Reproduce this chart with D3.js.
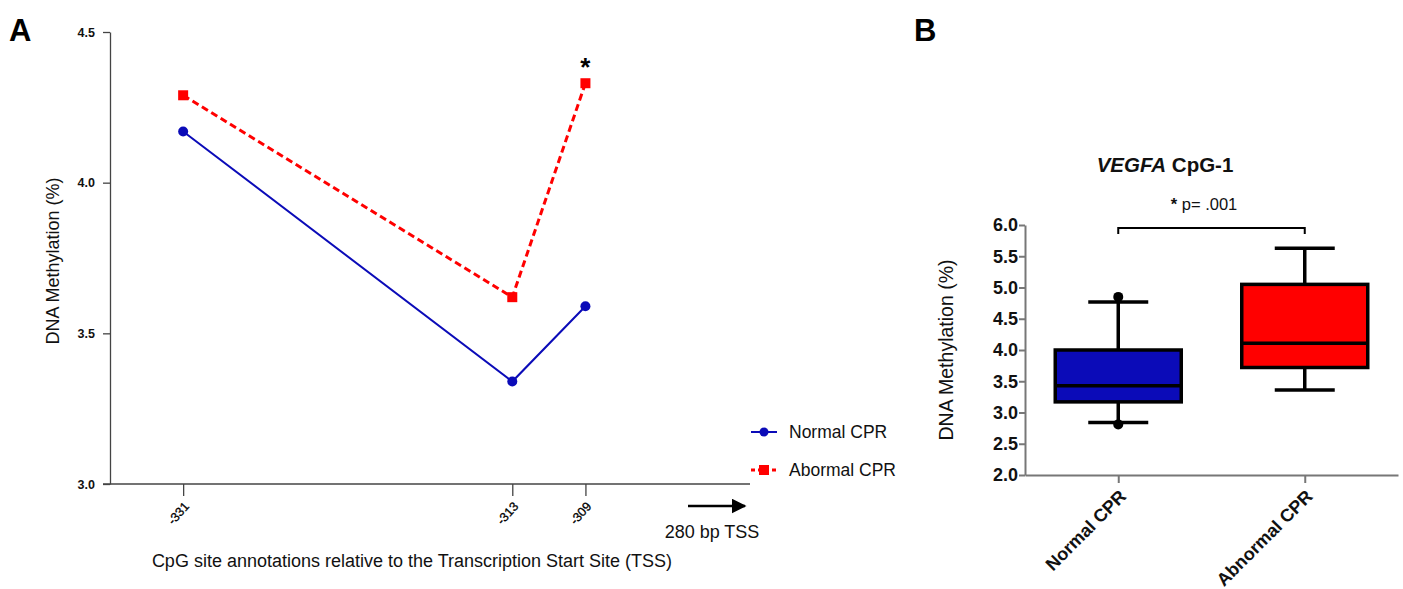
<!DOCTYPE html>
<html>
<head>
<meta charset="utf-8">
<script src="https://cdn.jsdelivr.net/npm/d3@7"></script>
<style>
body { margin: 0; background: #fff; }
svg { font-family: "Liberation Sans", Arial, sans-serif; }
.axisA path, .axisA line { stroke: #444; stroke-width: 1.3px; }
.axisB path, .axisB line { stroke: #777; stroke-width: 2px; }
</style>
</head>
<body>
<script>
// ---- panel A data
var sitiosCpG = [-331, -313, -309];
var normalCPR = [4.17, 3.34, 3.59];
var abnormalCPR = [4.29, 3.62, 4.33];
var ticksYA = [3.0, 3.5, 4.0, 4.5];
var serieNombres = ["Normal CPR", "Abormal CPR"];

// ---- panel B data
var grupos = ["Normal CPR", "Abnormal CPR"];
var cajaMin = [2.84, 3.36];
var cajaQ1 = [3.17, 3.72];
var cajaMediana = [3.43, 4.11];
var cajaQ3 = [4.00, 5.05];
var cajaMax = [4.77, 5.63];
var atipicos = [[4.85, 2.81], []];
var ticksYB = [2.0, 2.5, 3.0, 3.5, 4.0, 4.5, 5.0, 5.5, 6.0];

var azul = "#0b0bb8";
var rojo = "#ff0000";

var svg = d3.select("body").append("svg")
	.attr("width", 1403)
	.attr("height", 589);

/*
>>>>>>>>>>>>>>>>>>>>>>>>>>>>>>>>>>>>>>>>>>>>> Panel A
*/
svg.append("text").attr("x", 9).attr("y", 41)
	.attr("font-size", "31px").attr("font-weight", "bold").text("A");

var xA = d3.scaleLinear().domain([-335, -300]).range([110, 750]);
var yA = d3.scaleLinear().domain([3.0, 4.5]).range([484, 32]);

var ejeXA = svg.append("g").attr("class", "axisA")
	.attr("transform", "translate(0,484)")
	.call(d3.axisBottom(xA).tickValues(sitiosCpG).tickFormat(function (d) { return "-" + Math.abs(d); })
		.tickSizeOuter(0).tickSize(12));
ejeXA.select(".domain").attr("d", "M103,0H750");
ejeXA.selectAll("text")
	.attr("font-size", "12.5px")
	.attr("fill", "#000")
	.attr("stroke", "#000").attr("stroke-width", 0.3)
	.attr("text-anchor", "end")
	.attr("y", 0).attr("dy", "0.35em")
	.attr("transform", "translate(3,20) rotate(-48)");

var ejeYA = svg.append("g").attr("class", "axisA")
	.attr("transform", "translate(110,0)")
	.call(d3.axisLeft(yA).tickValues(ticksYA).tickFormat(d3.format(".1f")).tickSize(7).tickSizeOuter(0));
ejeYA.selectAll("text").attr("font-size", "12.5px").attr("font-weight", "bold").attr("fill", "#111").attr("x", -15);

svg.append("text")
	.attr("transform", "translate(59,261) rotate(-90)")
	.attr("text-anchor", "middle").attr("font-size", "18px").attr("fill", "#111")
	.text("DNA Methylation (%)");

svg.append("text").attr("x", 412).attr("y", 567)
	.attr("text-anchor", "middle").attr("font-size", "18px").attr("fill", "#111")
	.text("CpG site annotations relative to the Transcription Start Site (TSS)");

// flecha TSS
svg.append("defs").append("marker")
	.attr("id", "punta").attr("viewBox", "0 0 10 10")
	.attr("refX", 9).attr("refY", 5)
	.attr("markerWidth", 6).attr("markerHeight", 6)
	.attr("markerUnits", "strokeWidth")
	.attr("orient", "auto")
	.append("path").attr("d", "M0,0L10,5L0,10z").attr("fill", "#000");
svg.append("line").attr("x1", 688).attr("y1", 506).attr("x2", 745).attr("y2", 506)
	.attr("stroke", "#000").attr("stroke-width", 2.5).attr("marker-end", "url(#punta)");
svg.append("text").attr("x", 712).attr("y", 538)
	.attr("text-anchor", "middle").attr("font-size", "18px").attr("fill", "#111")
	.text("280 bp TSS");

var linea = d3.line()
	.x(function (d, i) { return xA(sitiosCpG[i]); })
	.y(function (d) { return yA(d); });

svg.append("path").datum(normalCPR)
	.attr("d", linea).attr("fill", "none")
	.attr("stroke", azul).attr("stroke-width", 2);
svg.append("path").datum(abnormalCPR)
	.attr("d", linea).attr("fill", "none")
	.attr("stroke", rojo).attr("stroke-width", 3).attr("stroke-dasharray", "7,4");

svg.selectAll("circle.normal").data(normalCPR).enter()
	.append("circle").attr("class", "normal")
	.attr("cx", function (d, i) { return xA(sitiosCpG[i]); })
	.attr("cy", function (d) { return yA(d); })
	.attr("r", 5).attr("fill", azul);

svg.selectAll("rect.abnormal").data(abnormalCPR).enter()
	.append("rect").attr("class", "abnormal")
	.attr("x", function (d, i) { return xA(sitiosCpG[i]) - 5; })
	.attr("y", function (d) { return yA(d) - 5; })
	.attr("width", 10).attr("height", 10).attr("fill", rojo);

svg.append("text")
	.attr("x", xA(sitiosCpG[2])).attr("y", yA(abnormalCPR[2]) - 7)
	.attr("text-anchor", "middle").attr("font-size", "26px").attr("font-weight", "bold")
	.text("*");

// leyenda
var leyenda = svg.selectAll("g.leyenda").data(serieNombres).enter()
	.append("g").attr("class", "leyenda")
	.attr("transform", function (d, i) { return "translate(751," + (432 + i * 38) + ")"; });
leyenda.append("line").attr("x1", 0).attr("x2", 26).attr("y1", 0).attr("y2", 0)
	.attr("stroke", function (d, i) { return i ? rojo : azul; })
	.attr("stroke-width", function (d, i) { return i ? 3 : 2; })
	.attr("stroke-dasharray", function (d, i) { return i ? "4,3" : null; });
leyenda.filter(function (d, i) { return i === 0; }).append("circle")
	.attr("cx", 13).attr("r", 4.5).attr("fill", azul);
leyenda.filter(function (d, i) { return i === 1; }).append("rect")
	.attr("x", 8).attr("y", -5).attr("width", 10).attr("height", 10).attr("fill", rojo);
leyenda.append("text").attr("x", 38).attr("y", 6)
	.attr("font-size", "17.5px").attr("fill", "#111")
	.text(function (d) { return d; });

/*
>>>>>>>>>>>>>>>>>>>>>>>>>>>>>>>>>>>>>>>>>>>>> Panel B
*/
svg.append("text").attr("x", 914).attr("y", 41)
	.attr("font-size", "31px").attr("font-weight", "bold").text("B");

var xB = d3.scalePoint().domain(grupos).range([1025, 1398]).padding(0.5);
var yB = d3.scaleLinear().domain([2.0, 6.0]).range([475, 225]);

var ejeXB = svg.append("g").attr("class", "axisB")
	.attr("transform", "translate(0,475)")
	.call(d3.axisBottom(xB).tickSize(8).tickSizeOuter(0));
ejeXB.selectAll("text")
	.attr("font-size", "18px").attr("font-weight", "bold").attr("fill", "#111")
	.attr("text-anchor", "end")
	.attr("transform", "translate(4,18) rotate(-45)")
	.attr("y", 0).attr("dy", "0.35em");

var ejeYB = svg.append("g").attr("class", "axisB")
	.attr("transform", "translate(1025,0)")
	.call(d3.axisLeft(yB).tickValues(ticksYB).tickFormat(d3.format(".1f")).tickSize(6).tickSizeOuter(0));
ejeYB.selectAll("text").attr("font-size", "18px").attr("font-weight", "bold").attr("fill", "#111").attr("x", -7);

svg.append("text")
	.attr("transform", "translate(953,350) rotate(-90)")
	.attr("text-anchor", "middle").attr("font-size", "19.5px").attr("fill", "#111")
	.text("DNA Methylation (%)");

var titulo = svg.append("text").attr("x", 1165).attr("y", 172)
	.attr("text-anchor", "middle").attr("font-size", "20.5px").attr("font-weight", "bold").attr("fill", "#111");
titulo.append("tspan").attr("font-style", "italic").text("VEGFA");
titulo.append("tspan").text(" CpG-1");

// cajas
var anchoCaja = 126;
var anchoBigote = 60;
var colorCaja = [azul, rojo];
var cajas = svg.selectAll("g.caja").data(grupos).enter()
	.append("g").attr("class", "caja");
cajas.append("line")
	.attr("x1", function (d) { return xB(d); }).attr("x2", function (d) { return xB(d); })
	.attr("y1", function (d, i) { return yB(cajaMin[i]); })
	.attr("y2", function (d, i) { return yB(cajaMax[i]); })
	.attr("stroke", "#000").attr("stroke-width", 3.5);
cajas.append("line")
	.attr("x1", function (d) { return xB(d) - anchoBigote / 2; })
	.attr("x2", function (d) { return xB(d) + anchoBigote / 2; })
	.attr("y1", function (d, i) { return yB(cajaMin[i]); })
	.attr("y2", function (d, i) { return yB(cajaMin[i]); })
	.attr("stroke", "#000").attr("stroke-width", 3.5);
cajas.append("line")
	.attr("x1", function (d) { return xB(d) - anchoBigote / 2; })
	.attr("x2", function (d) { return xB(d) + anchoBigote / 2; })
	.attr("y1", function (d, i) { return yB(cajaMax[i]); })
	.attr("y2", function (d, i) { return yB(cajaMax[i]); })
	.attr("stroke", "#000").attr("stroke-width", 3.5);
cajas.append("rect")
	.attr("x", function (d) { return xB(d) - anchoCaja / 2; })
	.attr("y", function (d, i) { return yB(cajaQ3[i]); })
	.attr("width", anchoCaja)
	.attr("height", function (d, i) { return yB(cajaQ1[i]) - yB(cajaQ3[i]); })
	.attr("fill", function (d, i) { return colorCaja[i]; })
	.attr("stroke", "#000").attr("stroke-width", 3.5);
cajas.append("line")
	.attr("x1", function (d) { return xB(d) - anchoCaja / 2; })
	.attr("x2", function (d) { return xB(d) + anchoCaja / 2; })
	.attr("y1", function (d, i) { return yB(cajaMediana[i]); })
	.attr("y2", function (d, i) { return yB(cajaMediana[i]); })
	.attr("stroke", "#000").attr("stroke-width", 3.5);
cajas.selectAll("circle").data(function (d, i) { return atipicos[i].map(function (v) { return [d, v]; }); })
	.enter().append("circle")
	.attr("cx", function (p) { return xB(p[0]); })
	.attr("cy", function (p) { return yB(p[1]); })
	.attr("r", 5).attr("fill", "#000");

// significancia
var yCorchete = 228;
svg.append("path")
	.attr("d", "M" + xB(grupos[0]) + "," + (yCorchete + 6) + "V" + yCorchete +
		"H" + xB(grupos[1]) + "V" + (yCorchete + 6))
	.attr("fill", "none").attr("stroke", "#000").attr("stroke-width", 2);
var sig = svg.append("text").attr("x", 1204).attr("y", 210)
	.attr("text-anchor", "middle").attr("font-size", "16.5px").attr("fill", "#111");
sig.append("tspan").attr("font-weight", "bold").text("*");
sig.append("tspan").text(" p= .001");
</script>
</body>
</html>
